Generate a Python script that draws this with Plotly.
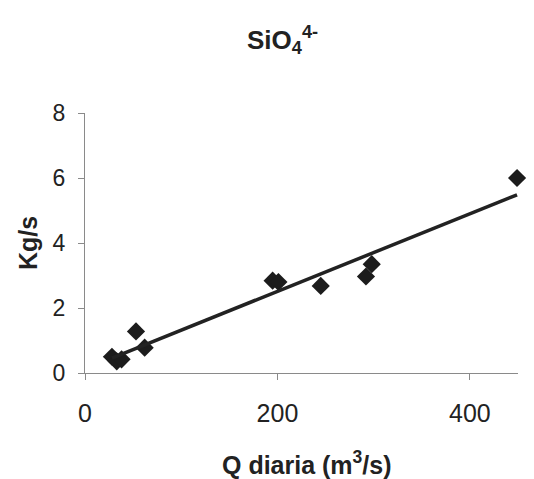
import numpy as np
import plotly.graph_objects as go

# Data
q_diaria = [28, 33, 38, 53, 62, 195, 201, 245, 292, 298, 449]
kg_s = [0.50, 0.36, 0.42, 1.28, 0.78, 2.84, 2.80, 2.68, 2.97, 3.35, 6.00]
x_ticks = [0, 200, 400]
y_ticks = [0, 2, 4, 6, 8]

# Linear trendline (least squares, as in the spreadsheet chart)
slope, intercept = np.polyfit(q_diaria, kg_s, 1)
trend_x = [min(q_diaria), max(q_diaria)]
trend_y = [slope * v + intercept for v in trend_x]

FONT = "Liberation Sans, Arial, sans-serif"
INK = "#1c1c1c"

fig = go.Figure()
fig.add_trace(go.Scatter(
    x=q_diaria, y=kg_s, mode="markers",
    marker=dict(symbol="diamond", size=14, color=INK, line=dict(width=0)),
    cliponaxis=False, showlegend=False,
))
fig.add_trace(go.Scatter(
    x=trend_x, y=trend_y, mode="lines",
    line=dict(color="#222222", width=3.5),
    cliponaxis=False, showlegend=False,
))

fig.update_layout(
    width=534, height=479,
    margin=dict(l=85, r=16, t=113, b=106),
    paper_bgcolor="white", plot_bgcolor="white",
    font=dict(family=FONT, color="#222222"),
    showlegend=False,
    xaxis=dict(
        range=[0, 450], tickvals=x_ticks, ticktext=[str(v) for v in x_ticks],
        showgrid=False, zeroline=False, showline=True, linecolor="#8a8a8a", linewidth=1,
        ticks="outside", ticklen=6, tickcolor="#8a8a8a",
        tickfont=dict(size=25, family=FONT, color="#222222"),
        ticklabelstandoff=12,
    ),
    yaxis=dict(
        range=[0, 8], tickvals=y_ticks, ticktext=[str(v) for v in y_ticks],
        showgrid=False, zeroline=False, showline=True, linecolor="#8a8a8a", linewidth=1,
        ticks="outside", ticklen=6, tickcolor="#8a8a8a",
        tickfont=dict(size=23, family=FONT, color="#222222"),
        ticklabelstandoff=8,
    ),
    annotations=[
        dict(text="<b>SiO<sub>4</sub><sup>4-</sup></b>", x=282, y=40,
             xref="paper", yref="paper", showarrow=False,
             font=dict(size=26, family=FONT, color="#222222")),
        dict(text="<b>Kg/s</b>", x=28, y=243, textangle=-90,
             xref="paper", yref="paper", showarrow=False,
             font=dict(size=25, family=FONT, color="#222222")),
        dict(text="<b>Q diaria (m<sup>3</sup>/s)</b>", x=307, y=463,
             xref="paper", yref="paper", showarrow=False,
             font=dict(size=25, family=FONT, color="#222222")),
    ],
)

# convert pixel positions of annotations into paper coordinates
pl, pr, pt, pb = 85, 534 - 16, 113, 479 - 106
for a in fig.layout.annotations:
    px, py = a.x, a.y
    a.x = (px - pl) / (pr - pl)
    a.y = (pb - py) / (pb - pt)
    a.xanchor = "center"
    a.yanchor = "middle"

fig.write_html(
    "out.html",
    config={"displayModeBar": False},
    post_script="document.body.style.margin='0';document.body.style.overflow='hidden';",
)
